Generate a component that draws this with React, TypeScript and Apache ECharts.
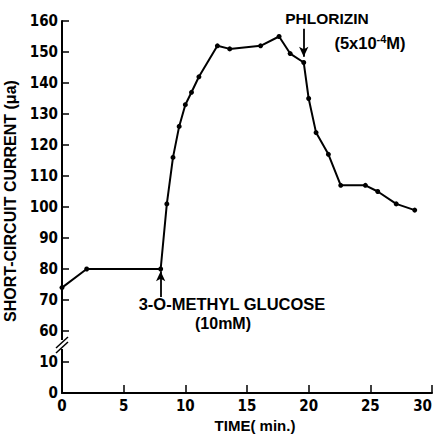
import React, { useEffect, useRef } from "react";
import * as echarts from "echarts";

// Time (min) and short-circuit current (μa)
const timeMin = [0, 2, 8, 8.5, 9, 9.5, 10, 10.5, 11.1, 12.6, 13.6, 16.1, 17.6, 18.5, 19.6, 20.0, 20.6, 21.6, 22.6, 24.6, 25.6, 27.1, 28.6];
const currentUA = [74, 80, 80, 101, 116, 126, 133, 137, 142, 152, 151, 152, 155, 149.5, 146.6, 135, 124, 117, 107, 107, 105, 101, 99];

// Broken y axis: 0, 10, then 60..160
const yTickLabels = [0, 10, 60, 70, 80, 90, 100, 110, 120, 130, 140, 150, 160];
const xTickLabels = [0, 5, 10, 15, 20, 25, 30];
const BREAK_SHIFT = 40; // values >= 60 are drawn 40 units lower

// Arrow annotations: [time, from value, to value]
const glucoseArrow = [8, 71, 79.3];
const phlorizinArrow = [19.6, 157.5, 148.5];

const toAxis = (v: number) => (v >= 60 ? v - BREAK_SHIFT : v);

const TICK_FONT = "'Liberation Sans Narrow', 'DejaVu Sans Condensed', sans-serif";
const TEXT_FONT = "'Liberation Sans', Arial, sans-serif";

export default function App() {
  const ref = useRef<HTMLDivElement>(null);
  useEffect(() => {
    if (!ref.current) return;
    const chart = echarts.init(ref.current, undefined, { renderer: "svg" });
    const data = timeMin.map((t, i) => [t, toAxis(currentUA[i])]);
    const arrowStyle = { color: "#000", width: 1.8, type: "solid" as const };
    chart.setOption({
      animation: false,
      backgroundColor: "#fff",
      grid: { left: 62, right: 6, top: 21, bottom: 45, containLabel: false, outerBoundsMode: "none" },
      xAxis: {
        type: "value",
        min: 0,
        max: 30,
        interval: 5,
        name: "TIME( min.)",
        nameLocation: "middle",
        nameGap: 23,
        nameTextStyle: { fontFamily: TEXT_FONT, fontWeight: "bold", fontSize: 15, color: "#000", padding: [0, 0, 0, 16] },
        axisLine: { show: true, lineStyle: { color: "#000", width: 2 } },
        axisTick: { show: true, inside: true, length: 8, lineStyle: { color: "#000", width: 1.5 } },
        axisLabel: {
          color: "#000",
          fontFamily: TICK_FONT,
          fontWeight: "bold",
          fontSize: 15,
          margin: 5,
          alignMaxLabel: "right",
          formatter: (v: number) => String(xTickLabels[Math.round(v / 5)] ?? v),
        },
        splitLine: { show: false },
      },
      yAxis: {
        type: "value",
        min: 0,
        max: 120,
        interval: 10,
        name: "SHORT-CIRCUIT CURRENT (\u03bca)",
        nameLocation: "middle",
        nameGap: 42,
        nameRotate: 90,
        nameTextStyle: { fontFamily: TEXT_FONT, fontWeight: "bold", fontSize: 16, color: "#000", padding: [0, 0, 0, 12] },
        axisLine: { show: true, lineStyle: { color: "#000", width: 2 } },
        axisTick: { show: true, inside: true, length: 7, lineStyle: { color: "#000", width: 1.5 } },
        axisLabel: {
          color: "#000",
          fontFamily: TICK_FONT,
          fontWeight: "bold",
          fontSize: 15,
          margin: 4,
          formatter: (v: number) => String(yTickLabels[Math.round(v / 10)] ?? v),
        },
        splitLine: { show: false },
      },
      series: [
        {
          type: "line",
          data,
          symbol: "circle",
          symbolSize: 5,
          lineStyle: { color: "#000", width: 2 },
          itemStyle: { color: "#000" },
          markLine: {
            silent: true,
            symbol: ["none", "arrow"],
            symbolSize: [7, 10],
            label: { show: false },
            lineStyle: arrowStyle,
            data: [
              [
                { coord: [glucoseArrow[0], toAxis(glucoseArrow[1])] },
                { coord: [glucoseArrow[0], toAxis(glucoseArrow[2])] },
              ],
              [
                { coord: [phlorizinArrow[0], toAxis(phlorizinArrow[1])] },
                { coord: [phlorizinArrow[0], toAxis(phlorizinArrow[2])] },
              ],
            ],
          },
        },
      ],
      graphic: [
        { type: "rect", shape: { x: 58, y: 340, width: 8, height: 9 }, style: { fill: "#fff" }, z: 100 },
        { type: "line", shape: { x1: 56, y1: 348, x2: 68, y2: 337 }, style: { stroke: "#000", lineWidth: 1.5 }, z: 101 },
        { type: "line", shape: { x1: 56, y1: 353, x2: 68, y2: 342 }, style: { stroke: "#000", lineWidth: 1.5 }, z: 101 },
        {
          type: "text",
          x: 232,
          y: 304,
          style: { text: "3-O-METHYL GLUCOSE", font: `bold 16.5px ${TEXT_FONT}`, fill: "#000", align: "center", verticalAlign: "middle" },
        },
        {
          type: "text",
          x: 223,
          y: 323,
          style: { text: "(10mM)", font: `bold 16px ${TEXT_FONT}`, fill: "#000", align: "center", verticalAlign: "middle" },
        },
        {
          type: "text",
          x: 327,
          y: 18,
          style: { text: "PHLORIZIN", font: `bold 15.5px ${TEXT_FONT}`, fill: "#000", align: "center", verticalAlign: "middle" },
        },
        {
          type: "text",
          x: 370,
          y: 43,
          style: {
            text: "{n|(5x10}{s|-4}{n|M)}",
            align: "center",
            verticalAlign: "middle",
            rich: {
              n: { font: `bold 16.5px ${TEXT_FONT}`, fill: "#000", color: "#000" },
              s: { font: `bold 11px ${TEXT_FONT}`, fill: "#000", color: "#000", verticalAlign: "top", padding: [0, 0, 8, 0] },
            },
          },
        },
      ],
    });
    return () => chart.dispose();
  }, []);
  return <div ref={ref} style={{ width: 438, height: 438, position: "absolute", left: 0, top: 0 }} />;
}
